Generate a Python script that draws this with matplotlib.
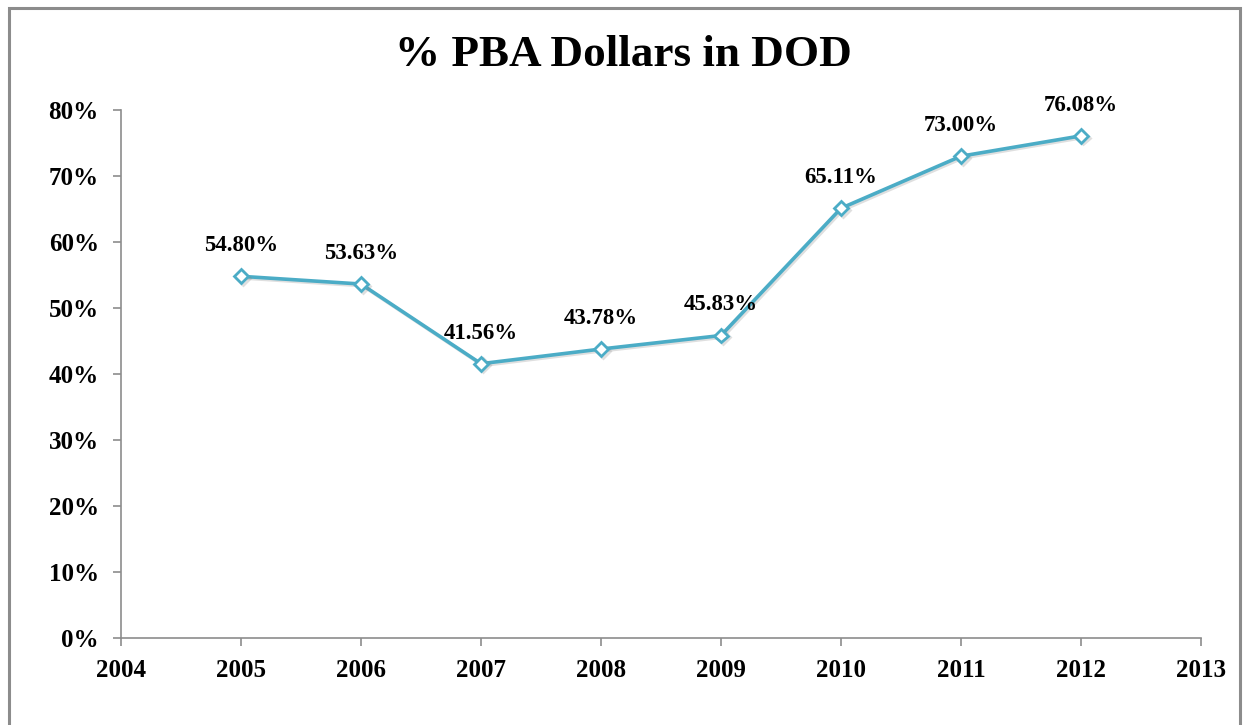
import matplotlib
matplotlib.use('Agg')
import matplotlib.pyplot as plt
import matplotlib.patheffects as pe
from matplotlib.patches import Rectangle
from matplotlib.ticker import FuncFormatter

years = [2005, 2006, 2007, 2008, 2009, 2010, 2011, 2012]
pct = [54.80, 53.63, 41.56, 43.78, 45.83, 65.11, 73.00, 76.08]
title = '% PBA Dollars in DOD'

plt.rcParams['font.family'] = ['Liberation Serif', 'DejaVu Serif']
plt.rcParams['font.weight'] = 'bold'

fig = plt.figure(figsize=(12.46, 7.25), dpi=100)
ax = fig.add_axes([0.0971, 0.12, 0.9639 - 0.0971, 0.8483 - 0.12])

# outer chart border
fig.patches.append(Rectangle((9 / 1246, -0.05), (1240 - 9) / 1246, 1.05 - 8 / 725,
                             transform=fig.transFigure, fill=False,
                             edgecolor='#8c8c8c', linewidth=2.2))

color = '#4BACC6'
shadow = [pe.SimpleLineShadow(offset=(1.2, -1.2), shadow_color='gray', alpha=0.25), pe.Normal()]
ax.plot(years, pct, color=color, linewidth=2.6, marker='D', markersize=7,
        markerfacecolor='white', markeredgecolor=color, markeredgewidth=2,
        path_effects=shadow, zorder=3)

for x, y in zip(years, pct):
    ax.annotate('%.2f%%' % y, (x, y), xytext=(0, 22), textcoords='offset points',
                ha='center', va='center', fontsize=16.5, fontweight='bold')

ax.set_xlim(2004, 2013)
ax.set_ylim(0, 80)
ax.set_xticks(range(2004, 2014))
ax.set_yticks(range(0, 81, 10))
ax.yaxis.set_major_formatter(FuncFormatter(lambda v, p: '%d%%' % v))

for s in ['top', 'right']:
    ax.spines[s].set_visible(False)
for s in ['left', 'bottom']:
    ax.spines[s].set_color('#8c8c8c')
    ax.spines[s].set_linewidth(1.2)
ax.tick_params(colors='#8c8c8c', length=6, width=1.2, labelcolor='black')
ax.tick_params(axis='x', pad=9)
ax.tick_params(axis='y', pad=10)
for lbl in ax.get_xticklabels() + ax.get_yticklabels():
    lbl.set_fontweight('bold')
    lbl.set_fontsize(18)

fig.text(0.5, 1 - 55 / 725, title, ha='center', va='center', fontsize=32.5, fontweight='bold')

fig.savefig('out.png', dpi=100)
